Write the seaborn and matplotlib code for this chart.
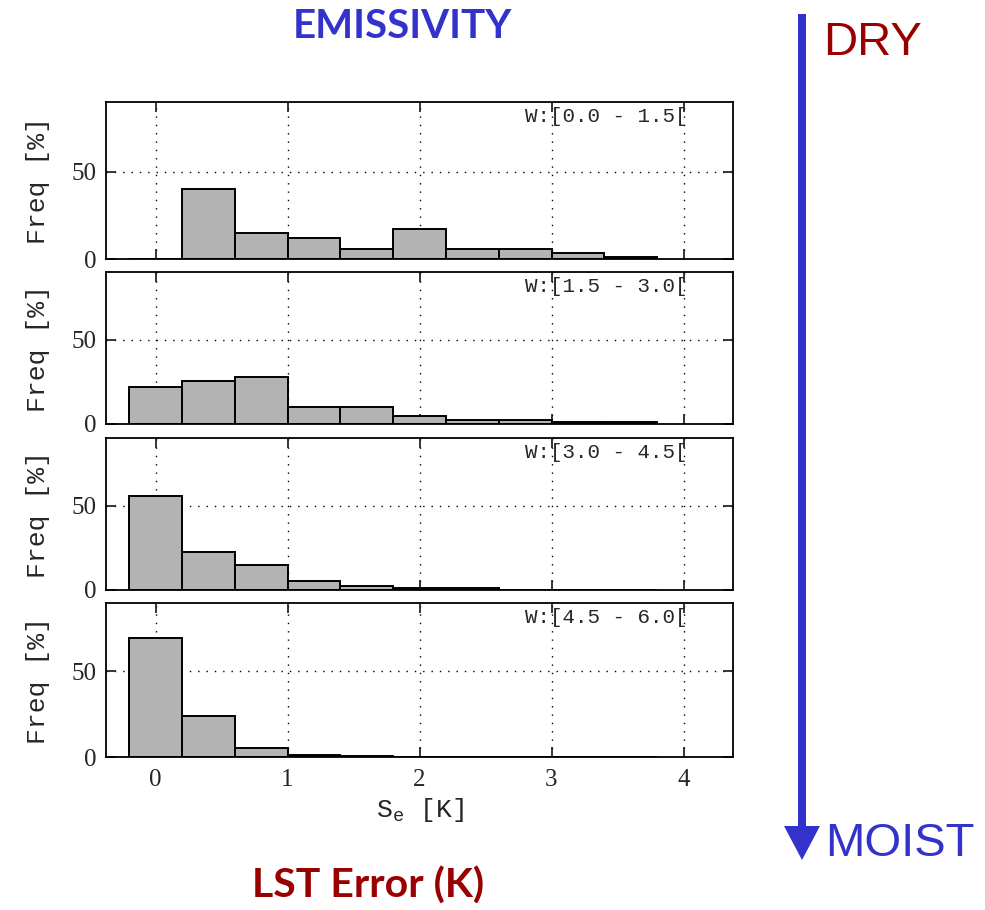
import numpy as np
import pandas as pd
import matplotlib.pyplot as plt
import seaborn as sns
from matplotlib.patches import FancyArrow

sns.set_style('ticks')
plt.rcParams['font.family'] = ['Liberation Mono', 'DejaVu Sans Mono']
plt.rcParams['mathtext.fontset'] = 'custom'
plt.rcParams['mathtext.rm'] = 'Liberation Mono'
plt.rcParams['mathtext.it'] = 'Liberation Mono'

# LST error bins (centre of each 0.4 K bin)
BIN_CENTERS = [0.0, 0.4, 0.8, 1.2, 1.6, 2.0, 2.4, 2.8, 3.2, 3.6]
BIN_WIDTH = 0.4

# water vapour classes, dry -> moist
W_CLASSES = ['[0.0 - 1.5[', '[1.5 - 3.0[', '[3.0 - 4.5[', '[4.5 - 6.0[']

# frequency [%] per bin for each class
FREQ_W1 = [0.0, 40.0, 14.7, 12.3, 5.8, 17.3, 5.6, 5.6, 3.4, 1.0]
FREQ_W2 = [21.9, 25.4, 27.6, 10.2, 10.2, 4.5, 2.4, 2.4, 1.4, 1.2]
FREQ_W3 = [55.7, 22.6, 14.8, 5.5, 2.6, 1.2, 1.2, 0.0, 0.0, 0.0]
FREQ_W4 = [69.3, 24.1, 5.1, 1.0, 0.8, 0.0, 0.0, 0.0, 0.0, 0.0]
FREQS = [FREQ_W1, FREQ_W2, FREQ_W3, FREQ_W4]

X_TICKS = [0, 1, 2, 3, 4]
Y_TICKS = [0, 50]

BLUE = '#3333cc'
DARK_RED = '#990000'

W, H = 985, 910
fig = plt.figure(figsize=(W / 100, H / 100), dpi=100)

# panel extents in pixels (top, bottom)
panel_px = [(102, 259), (272, 424), (438, 590), (603, 757)]
left_px, right_px = 106, 733

edges = [c - BIN_WIDTH / 2 for c in BIN_CENTERS] + [BIN_CENTERS[-1] + BIN_WIDTH / 2]

for i, (freq, wcls) in enumerate(zip(FREQS, W_CLASSES)):
    top, bottom = panel_px[i]
    ax = fig.add_axes([left_px / W, 1 - bottom / H, (right_px - left_px) / W, (bottom - top) / H])
    df = pd.DataFrame({'err': BIN_CENTERS, 'freq': freq})
    sns.histplot(data=df, x='err', weights='freq', bins=edges, color='#b3b3b3',
                 edgecolor='black', linewidth=1.4, alpha=1, ax=ax)
    ax.set_xlim(-0.375, 4.375)
    ax.set_ylim(0, 90)
    ax.set_xticks(X_TICKS)
    ax.set_yticks(Y_TICKS)
    ax.set_axisbelow(True)
    ax.grid(True, color='black', linestyle=(0, (1, 5)), linewidth=1.0)
    ax.tick_params(direction='in', top=True, right=True, length=7, width=1.3)
    ax.tick_params(axis='x', pad=9, labelsize=18)
    ax.tick_params(axis='y', pad=6.5, labelsize=18)
    for lab in ax.get_xticklabels() + ax.get_yticklabels():
        lab.set_family(['Liberation Serif', 'DejaVu Serif'])
    for s in ax.spines.values():
        s.set_linewidth(1.3)
        s.set_color('black')
    ax.set_ylabel('Freq [%]', fontsize=19)
    ax.yaxis.set_label_coords(-0.09, 0.5)
    ax.text(0.927, 0.97, 'W:' + wcls, transform=ax.transAxes, ha='right', va='top', fontsize=15)
    if i < 3:
        ax.set_xticklabels([])
        ax.set_xlabel('')
    else:
        ax.set_xlabel('S$_e$ [K]', fontsize=19, labelpad=3)

# overlay in pixel coordinates for the annotations
ov = fig.add_axes([0, 0, 1, 1])
ov.set_xlim(0, W)
ov.set_ylim(H, 0)
ov.axis('off')
ov.patch.set_alpha(0)

ov.add_patch(FancyArrow(802, 14, 0, 846, width=8, head_width=36, head_length=34,
                        length_includes_head=True, color=BLUE, lw=0))
ov.text(402, 38, 'EMISSIVITY', ha='center', va='baseline', color=BLUE,
        fontsize=29, fontweight='bold', family=['Lato', 'DejaVu Sans'])
ov.text(368, 898, 'LST Error (K)', ha='center', va='baseline', color=DARK_RED,
        fontsize=29.5, fontweight='bold', family=['Lato', 'DejaVu Sans'])
ov.text(823, 55, 'DRY', ha='left', va='baseline', color=DARK_RED,
        fontsize=34, family=['Liberation Sans', 'DejaVu Sans'])
ov.text(825, 856, 'MOIST', ha='left', va='baseline', color=BLUE,
        fontsize=34, family=['Liberation Sans', 'DejaVu Sans'])

plt.savefig('out.png', dpi=100)
